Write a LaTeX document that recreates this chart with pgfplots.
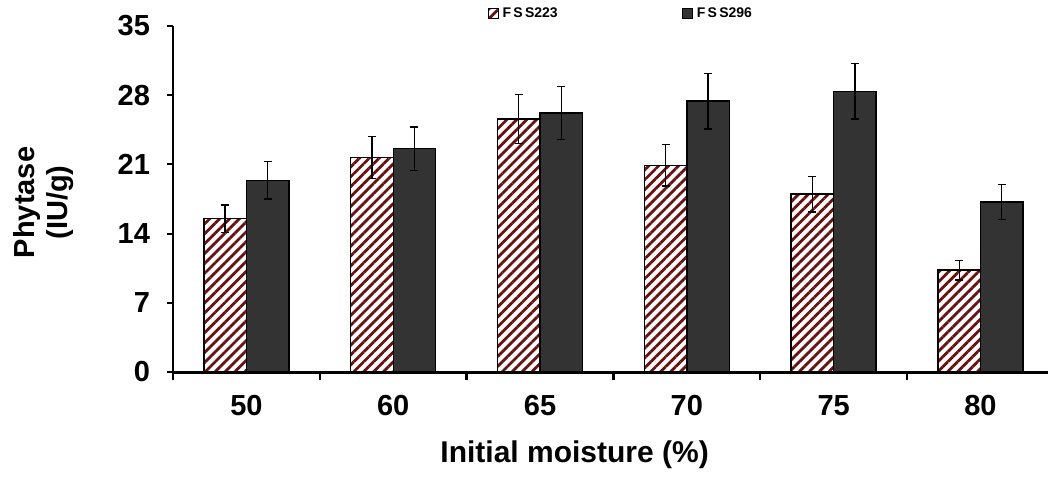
\documentclass[border=0pt]{standalone}
\usepackage{fontspec}
\setmainfont{Liberation Sans}
\usepackage{pgfplots}
\pgfplotsset{compat=1.18}
\usetikzlibrary{patterns.meta}
\definecolor{barred}{RGB}{105,18,18}
\definecolor{bardark}{RGB}{51,51,51}
\begin{document}
\begin{tikzpicture}
\useasboundingbox (0,0) rectangle (524pt,239pt);
\begin{axis}[
  at={(86.5pt,53pt)}, anchor=south west,
  scale only axis, width=437.5pt, height=173pt,
  ybar=0pt, bar width=21.25pt,
  xmin=-0.5, xmax=5.46, ymin=0, ymax=35,
  axis x line*=bottom, axis y line*=left,
  x axis line style={line width=1.5pt},
  y axis line style={line width=1pt},
  xtick={0,1,2,3,4,5},
  xticklabels={50,60,65,70,75,80},
  minor xtick={-0.5,0.5,1.5,2.5,3.5,4.5},
  major x tick style={draw=none},
  minor x tick style={line width=1.2pt, black},
  minor tick length=4pt,
  ytick={0,7,14,21,28,35},
  major y tick style={line width=1pt, black},
  major tick length=3pt,
  tick align=outside,
  /pgf/number format/assume math mode=true,
  tick label style={font=\bfseries\fontsize{14.5}{17}\selectfont},
  yticklabel style={xshift=-5pt},
  xticklabel style={yshift=-5pt},
  every axis y label/.style={at={(axis description cs:-0.148,0.49)}, rotate=90, anchor=center, align=center, font=\bfseries\fontsize{14.5}{16.5}\selectfont},
  ylabel={Phytase\\(IU/g)},
  every axis x label/.style={at={(axis description cs:0.459,-0.24)}, anchor=center, font=\bfseries\fontsize{15}{17}\selectfont},
  xlabel={Initial moisture (\%)},
  legend columns=2,
  legend style={draw=none, fill=none, at={(axis description cs:0.359,1.035)}, anchor=west,
    font=\bfseries\fontsize{7}{8}\selectfont, /tikz/every even column/.append style={column sep=60pt},
    inner sep=0pt},
  legend image code/.code={\draw[#1, line width=0.5pt] (0pt,-2.5pt) rectangle (5pt,2.5pt);},
  error bars/error bar style={line width=0.7pt, black},
  error bars/error mark options={rotate=90, mark size=2pt, line width=0.7pt, black},
]
\addplot[draw=black, line width=0.7pt, fill=white, pattern={Lines[angle=45,distance=3.5pt,line width=1.4pt]}, pattern color=barred,
  error bars/.cd, y dir=both, y explicit]
  coordinates {(0,15.5)+-(0,1.4) (1,21.7)+-(0,2.15) (2,25.6)+-(0,2.5) (3,20.9)+-(0,2.1) (4,18.0)+-(0,1.8) (5,10.3)+-(0,1.0)};
\addlegendentry{F\,S\,S223}
\addplot[draw=black, line width=0.7pt, fill=bardark,
  error bars/.cd, y dir=both, y explicit]
  coordinates {(0,19.4)+-(0,1.9) (1,22.6)+-(0,2.2) (2,26.2)+-(0,2.7) (3,27.4)+-(0,2.8) (4,28.4)+-(0,2.8) (5,17.2)+-(0,1.75)};
\addlegendentry{F\,S\,S296}
\end{axis}
\end{tikzpicture}
\end{document}
